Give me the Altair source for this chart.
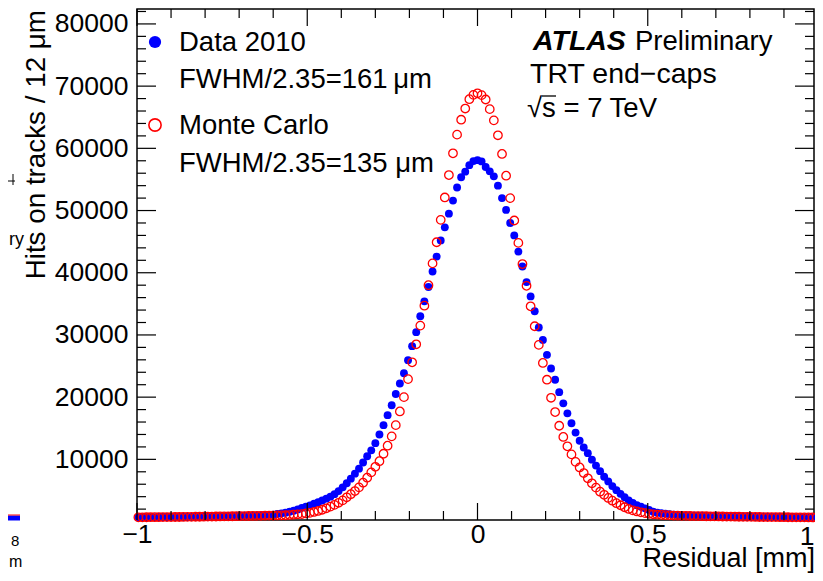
import altair as alt
import numpy as np
import pandas as pd

# ---------------- data ----------------
bin_width = 0.012  # mm
k_index = list(range(-83, 84))
residual_mm = [round(k * bin_width, 3) for k in k_index]

data_left_tail = [700, 710, 705, 720, 715, 730, 725, 740, 745, 750, 760, 765, 770, 785, 790,
                  800, 810, 820, 835, 845, 860, 870, 885, 900, 915, 930, 945, 960, 980, 1000,
                  1020, 1050, 1080]
data_left_core = [1120, 1220, 1320, 1420, 1570, 1730, 1950, 2200, 2380, 2600, 2880, 3120, 3380,
                  3680, 4000, 4400, 4900, 5500, 6150, 6900, 7700, 8500, 9500, 10500, 11450, 12600,
                  14000, 15500, 17100, 18700, 20500, 22200, 23850, 25950, 28200, 30450, 33000,
                  35400, 37700, 40200, 42600, 45200, 47300, 49500, 51600, 53700, 55350, 56250,
                  57300, 57950]
data_peak = [58100]
data_right_core = [57900, 57000, 56300, 55500, 54000, 52000, 50100, 48000, 46000, 43400, 41000,
                   38500, 36200, 33800, 31200, 29200, 26800, 24600, 22800, 20800, 19000, 17400,
                   15800, 14300, 13000, 11900, 11000, 9950, 9000, 8100, 7200, 6450, 5700, 5050,
                   4450, 3900, 3400, 3000, 2640, 2380, 2120, 1860, 1580, 1420, 1330, 1250, 1170,
                   1120, 1060, 1000]
data_right_tail = [980, 965, 950, 940, 925, 910, 900, 890, 880, 870, 860, 850, 840, 830, 820,
                   810, 800, 795, 785, 775, 770, 760, 755, 745, 740, 735, 725, 720, 715, 710,
                   705, 700, 695]

mc_left_tail = [680, 685, 690, 695, 700, 705, 710, 715, 720, 730, 735, 745, 750, 760, 770, 775,
                785, 795, 805, 815, 825, 835, 845, 855, 865, 875, 885, 895, 905, 915, 925, 940,
                950]
mc_left_core = [965, 980, 995, 1015, 1050, 1100, 1150, 1200, 1300, 1400, 1540, 1700, 1900, 2130,
                2400, 2680, 3020, 3400, 3900, 4400, 4900, 5500, 6250, 7050, 7900, 8800, 9700,
                10900, 12200, 13700, 15500, 17700, 20000, 22900, 25600, 28500, 31500, 34700,
                38000, 41500, 44900, 48500, 52100, 55700, 59200, 62200, 64600, 66400, 67900,
                68600]
mc_peak = [68850]
mc_right_core = [68550, 67850, 66300, 64500, 62100, 59100, 55600, 52000, 48400, 44800, 41400,
                 37900, 34600, 31400, 28400, 25500, 22800, 19900, 17600, 15400, 13600, 12100,
                 10800, 9600, 8700, 7800, 6950, 6150, 5450, 4800, 4300, 3800, 3350, 2950, 2620,
                 2300, 2030, 1800, 1620, 1470, 1350, 1250, 1170, 1110, 1060, 1020, 990, 965,
                 945, 925]
mc_right_tail = [910, 895, 880, 870, 860, 850, 840, 830, 820, 810, 800, 790, 780, 772, 765, 758,
                 750, 742, 735, 728, 720, 714, 708, 702, 696, 690, 685, 680, 675, 670, 665, 660,
                 655]

data_2010 = data_left_tail + data_left_core + data_peak + data_right_core + data_right_tail
monte_carlo = mc_left_tail + mc_left_core + mc_peak + mc_right_core + mc_right_tail

x_major = [-1, -0.5, 0, 0.5, 1]
x_labels = [-1, -0.5, 0, 0.5]          # the "1" label is drawn separately at the right edge
x_minor = [-0.9, -0.8, -0.7, -0.6, -0.4, -0.3, -0.2, -0.1, 0.1, 0.2, 0.3, 0.4, 0.6, 0.7, 0.8, 0.9]
y_major = [10000, 20000, 30000, 40000, 50000, 60000, 70000, 80000]
y_minor = [2000, 4000, 6000, 8000, 12000, 14000, 16000, 18000, 22000, 24000, 26000, 28000,
           32000, 34000, 36000, 38000, 42000, 44000, 46000, 48000, 52000, 54000, 56000, 58000,
           62000, 64000, 66000, 68000, 72000, 74000, 76000, 78000, 82000]

# ---------------- layout ----------------
W, H = 677, 511
FONT = "Liberation Sans"
FS_TICK = 26.5
FS = 27.5

xs = alt.Scale(domain=[-1, 0.98825], nice=False, zero=False)
ys = alt.Scale(domain=[250, 82400], nice=False, zero=False)

df_data = pd.DataFrame({"x": residual_mm, "y": data_2010})
df_mc = pd.DataFrame({"x": residual_mm, "y": monte_carlo})

x_axis = alt.Axis(values=x_labels, format="~g", ticks=False, domain=False, grid=False,
                  labelFont=FONT, labelFontSize=FS_TICK, labelColor="black", labelPadding=1,
                  labelFlush=False, labelOverlap=False, labelBound=False, title=None)
y_axis = alt.Axis(values=y_major, format="d", ticks=False, domain=False, grid=False,
                  labelFont=FONT, labelFontSize=FS_TICK, labelColor="black", labelPadding=9,
                  labelOverlap=False, title=None)

data_pts = alt.Chart(df_data).mark_circle(color="#0000ff", opacity=1, size=62).encode(
    x=alt.X("x:Q", scale=xs, axis=x_axis),
    y=alt.Y("y:Q", scale=ys, axis=y_axis),
)
mc_pts = alt.Chart(df_mc).mark_point(shape="circle", color="#ff0000", filled=False,
                                     strokeWidth=1.3, opacity=1, size=72).encode(
    x=alt.X("x:Q", scale=xs),
    y=alt.Y("y:Q", scale=ys),
)

# inward ticks on all four sides
def xticks(vals, length):
    d = pd.DataFrame({"x": vals})
    bottom = alt.Chart(d).mark_rule(color="black", strokeWidth=1.2).encode(
        x=alt.X("x:Q", scale=xs), y=alt.value(H), y2=alt.value(H - length))
    top = alt.Chart(d).mark_rule(color="black", strokeWidth=1.2).encode(
        x=alt.X("x:Q", scale=xs), y=alt.value(0), y2=alt.value(length))
    return [bottom, top]

def yticks(vals, length):
    d = pd.DataFrame({"y": vals})
    left = alt.Chart(d).mark_rule(color="black", strokeWidth=1.2).encode(
        y=alt.Y("y:Q", scale=ys), x=alt.value(0), x2=alt.value(length))
    right = alt.Chart(d).mark_rule(color="black", strokeWidth=1.2).encode(
        y=alt.Y("y:Q", scale=ys), x=alt.value(W), x2=alt.value(W - length))
    return [left, right]

one = pd.DataFrame({"a": [0]})

def txt(s, x, y, **kw):
    params = dict(font=FONT, fontSize=FS, color="black", align="left", baseline="alphabetic")
    params.update(kw)
    return alt.Chart(one).mark_text(**params).encode(
        x=alt.value(x), y=alt.value(y), text=alt.value(s))

def seg(x1, y1, x2, y2, color="black", width=1.2):
    return alt.Chart(one).mark_rule(color=color, strokeWidth=width).encode(
        x=alt.value(x1), y=alt.value(y1), x2=alt.value(x2), y2=alt.value(y2))

legend_blue = alt.Chart(one).mark_circle(color="#0000ff", opacity=1, size=150).encode(
    x=alt.value(18), y=alt.value(33))
legend_red = alt.Chart(one).mark_point(shape="circle", color="#ff0000", filled=False,
                                       strokeWidth=1.6, opacity=1, size=150).encode(
    x=alt.value(18), y=alt.value(116))

texts = [
    txt("Data 2010", 42, 42),
    txt("FWHM/2.35=161\u2009\u03bcm", 42, 79),
    txt("Monte Carlo", 42, 125),
    txt("FWHM/2.35=135 \u03bcm", 42, 163),
    txt("ATLAS", 396, 41, fontWeight="bold", fontStyle="italic", fontSize=28.5),
    txt("Preliminary", 498, 41),
    txt("TRT end\u2212caps", 393, 74, fontSize=28.5),
    txt("\u221as = 7 TeV", 390, 108),
    txt("1", 670, 536, align="center", fontSize=FS_TICK),
    txt("Residual [mm]", W + 1, 558, align="right", fontSize=27),
    txt("Hits on tracks / 12 \u03bcm", -92, 1, align="right", angle=270, fontSize=27.8),
    # fragments of the neighbouring panel at the left edge
    txt("ry", -128, 236, fontSize=18),
    txt("8", -126, 537, fontSize=15),
    txt("m", -128, 558, fontSize=16),
]
extras = [
    seg(405, 87, 419, 87, width=1.3),             # overline of sqrt(s)
    seg(-129, 509, -117, 509, color="#0000ff", width=5),
    seg(-129, 506, -117, 506, color="#ff0000", width=1),
    seg(-129, 172, -122, 172, width=1),
    seg(-124, 165, -124, 176, width=1),
]

layers = ([data_pts, mc_pts] + xticks(x_major, 17) + xticks(x_minor, 9)
          + yticks(y_major, 19) + yticks(y_minor, 9) + [legend_blue, legend_red]
          + texts + extras)

chart = alt.layer(*layers).properties(
    width=W, height=H,
    autosize=alt.AutoSizeParams(type="none"),
    padding={"left": 129, "top": 1, "right": 1, "bottom": 53},
).configure_view(stroke="black", strokeWidth=1.5)

chart.save("out.html", embed_options={"renderer": "svg", "actions": False})
